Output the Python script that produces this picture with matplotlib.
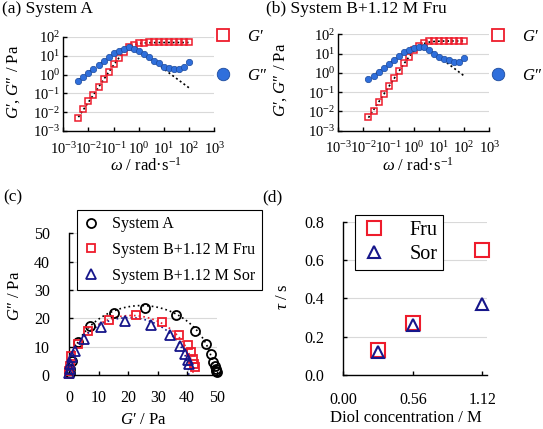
import matplotlib
matplotlib.use('Agg')
import matplotlib.pyplot as plt
import numpy as np
from matplotlib.lines import Line2D
from matplotlib.ticker import FuncFormatter, NullLocator

plt.rcParams['font.family'] = ['Liberation Serif', 'DejaVu Serif']
plt.rcParams['mathtext.fontset'] = 'custom'
plt.rcParams['mathtext.rm'] = 'Liberation Serif'
plt.rcParams['mathtext.it'] = 'Liberation Serif:italic'
plt.rcParams['mathtext.bf'] = 'Liberation Serif:bold'

# ---- data ----
# (a) System A, frequency sweep
omega_a = [0.00398, 0.00631, 0.01, 0.0158, 0.0251, 0.0398, 0.0631, 0.1, 0.158, 0.251,
           0.398, 0.631, 1.0, 1.58, 2.51, 3.98, 6.31, 10.0, 15.8, 25.1, 39.8, 63.1, 100.0]
Gp_a = [0.0051, 0.0148, 0.038, 0.085, 0.22, 0.58, 1.43, 3.66, 7.9, 15.8,
        28, 39, 46, 50, 51, 51, 51, 51, 51, 51, 51, 51, 51]
Gpp_a = [0.475, 0.78, 1.27, 1.9, 3.2, 5.3, 8.3, 13.5, 18.7, 24,
         28, 24, 17.4, 12.5, 8.3, 5.5, 4.0, 2.6, 2.15, 1.9, 2.07, 2.6, 4.7]
G0_a, tau_a = 51, 2.6

# (b) System B + 1.12 M Fru
omega_b = [0.0158, 0.0251, 0.0398, 0.0631, 0.1, 0.158, 0.251, 0.398, 0.631, 1.0,
           1.58, 2.51, 3.98, 6.31, 10.0, 15.8, 25.1, 39.8, 63.1, 100.0]
Gp_b = [0.0052, 0.0102, 0.032, 0.081, 0.21, 0.52, 1.3, 3.1, 6.9, 15.4,
        26, 37, 44, 45, 45, 45, 45, 45, 45, 45]
Gpp_b = [0.46, 0.69, 1.11, 1.87, 2.9, 4.9, 7.5, 11.6, 16, 20.3,
         22, 21, 15.4, 9.6, 6.9, 5.5, 4.5, 3.7, 3.8, 6.2]
G0_b, tau_b = 45, 0.65

# (c) Cole-Cole plots
coleA_Gp = [0.1, 0.3, 0.8, 2.8, 7.0, 15.0, 25.8, 36.1, 42.8, 46.5, 47.9, 48.9, 49.4, 49.7, 49.9, 50.0]
coleA_Gpp = [0.8, 2.0, 4.8, 11.6, 17.4, 22.0, 23.7, 21.0, 15.4, 11.1, 7.5, 4.7, 3.0, 2.0, 1.5, 1.2]
coleF_Gp = [0.0, 0.05, 0.15, 0.5, 2.8, 6.3, 13.5, 22.7, 31.5, 37.2, 40.4, 41.4, 42.0, 42.4, 42.6]
coleF_Gpp = [0.5, 1.5, 3.2, 6.8, 10.9, 15.4, 19.4, 21.0, 18.7, 14.1, 10.6, 8.0, 5.8, 4.0, 2.8]
coleS_Gp = [0.0, 0.1, 0.3, 0.8, 2.0, 5.1, 10.8, 18.9, 27.6, 34.0, 37.7, 39.3, 40.1, 40.6]
coleS_Gpp = [0.6, 2.0, 4.0, 6.3, 8.6, 12.6, 16.8, 19.1, 17.5, 14.1, 10.3, 7.3, 5.3, 3.9]
G0_cole = {'A': 49, 'Fru': 42, 'Sor': 40.5}

# (d) relaxation time vs diol concentration
conc = [0.28, 0.56, 1.12]
tau_fru = [0.13, 0.27, 0.65]
tau_sor = [0.12, 0.26, 0.37]

RED = '#ee1c2c'
BLUE = '#2f6fdc'
DBLUE = '#1c4a9c'
NAVY = '#16168a'
GRID = '#d9d9d9'

W, H = 543, 429
fig = plt.figure(figsize=(W / 100, H / 100), dpi=100)


def add_ax(x0, y0, x1, y1):
    return fig.add_axes([x0 / W, 1 - y1 / H, (x1 - x0) / W, (y1 - y0) / H])


def ftext(x, y, s, **kw):
    fig.text(x / W, 1 - y / H, s, **kw)


def maxwell(w, g0, tau):
    x = np.asarray(w) * tau
    return g0 * x ** 2 / (1 + x ** 2), g0 * x / (1 + x ** 2)


def style(ax):
    for s in ['top', 'right']:
        ax.spines[s].set_visible(False)
    for s in ['left', 'bottom']:
        ax.spines[s].set_linewidth(1.0)
    ax.yaxis.grid(True, color=GRID, lw=0.8)
    ax.set_axisbelow(True)


logfmt = FuncFormatter(lambda v, p: r'$\mathregular{10^{%d}}$' % round(np.log10(v)))


def freq_panel(ax, w, gp, gpp, g0, tau):
    ws = np.logspace(np.log10(w[0]), np.log10(w[-1]), 300)
    fp, fpp = maxwell(ws, g0, tau)
    ax.plot(ws, fp, color='k', ls=(0, (1.2, 1.6)), lw=1.2, zorder=2)
    ax.plot(ws, fpp, color='k', ls=(0, (1.2, 1.6)), lw=1.2, zorder=2)
    ax.plot(w, gp, 's', mfc='none', mec=RED, mew=1.1, ms=4.6, zorder=3)
    ax.plot(w, gpp, 'o', mfc=BLUE, mec=DBLUE, mew=0.5, ms=4.6, zorder=4)
    ax.set_xscale('log')
    ax.set_yscale('log')
    ax.set_xlim(1e-3, 1e3)
    ax.set_ylim(1e-3, 1e2)
    ax.set_xticks([10.0 ** k for k in range(-3, 4)])
    ax.set_yticks([10.0 ** k for k in range(-3, 3)])
    ax.xaxis.set_minor_locator(NullLocator())
    ax.yaxis.set_minor_locator(NullLocator())
    ax.xaxis.set_major_formatter(logfmt)
    ax.yaxis.set_major_formatter(logfmt)
    ax.tick_params(axis='both', direction='in', length=3, width=1.0, labelsize=10.5)
    ax.tick_params(axis='x', pad=7)
    ax.tick_params(axis='y', pad=2)
    style(ax)
    handles = [Line2D([], [], marker='s', ls='none', ms=9, mfc='white', mec=RED, mew=1.3),
               Line2D([], [], marker='o', ls='none', ms=9, mfc=BLUE, mec=DBLUE, mew=0.6)]
    return handles


# (a)
ax_a = add_ax(63.3, 37, 214.3, 131)
h = freq_panel(ax_a, omega_a, Gp_a, Gpp_a, G0_a, tau_a)
fig.legend(h, [r"$G$′", r"$G$″"], loc='upper left', bbox_to_anchor=(215 / W, 1 - 29 / H),
           bbox_transform=fig.transFigure, frameon=False, fontsize=12, handlelength=1.0,
           handletextpad=0.9, labelspacing=1.35, borderpad=0, borderaxespad=0)
ftext(2, 9, '(a) System A', fontsize=12.5, va='center', ha='left')
ftext(14, 82, r"$G$′, $G$″ / Pa", fontsize=12, rotation=90, va='center', ha='center')
ftext(146, 166, r"$\omega$ / rad·s$^{\mathregular{-1}}$", fontsize=12, va='center', ha='center')

# (b)
ax_b = add_ax(338.3, 34.3, 489.3, 130.7)
h = freq_panel(ax_b, omega_b, Gp_b, Gpp_b, G0_b, tau_b)
fig.legend(h, [r"$G$′", r"$G$″"], loc='upper left', bbox_to_anchor=(490 / W, 1 - 29 / H),
           bbox_transform=fig.transFigure, frameon=False, fontsize=12, handlelength=1.0,
           handletextpad=0.9, labelspacing=1.35, borderpad=0, borderaxespad=0)
ftext(266, 9, '(b) System B+1.12 M Fru', fontsize=12.5, va='center', ha='left')
ftext(281, 80, r"$G$′, $G$″ / Pa", fontsize=12, rotation=90, va='center', ha='center')
ftext(418, 166, r"$\omega$ / rad·s$^{\mathregular{-1}}$", fontsize=12, va='center', ha='center')

# (c)
ax_c = add_ax(69.3, 233.3, 216.7, 375)
ws = np.logspace(-3, 3, 400)
for key, col in [('A', 'k'), ('Fru', RED), ('Sor', NAVY)]:
    cp, cpp = maxwell(ws, G0_cole[key], 1.0)
    ax_c.plot(cp, cpp, color=col, ls=(0, (1.0, 1.8)), lw=1.2, zorder=2)
ax_c.plot(coleA_Gp, coleA_Gpp, 'o', mfc='none', mec='k', mew=1.3, ms=6.5, zorder=3,
          label='System A', clip_on=False)
ax_c.plot(coleF_Gp, coleF_Gpp, 's', mfc='none', mec=RED, mew=1.3, ms=6.3, zorder=3,
          label='System B+1.12 M Fru', clip_on=False)
ax_c.plot(coleS_Gp, coleS_Gpp, '^', mfc='none', mec=NAVY, mew=1.3, ms=6.5, zorder=4,
          label='System B+1.12 M Sor', clip_on=False)
ax_c.set_xlim(0, 50)
ax_c.set_ylim(0, 50)
ax_c.set_xticks(range(0, 51, 10))
ax_c.set_yticks(range(0, 51, 10))
ax_c.tick_params(axis='both', direction='in', length=3, width=1.0, labelsize=11.5)
ax_c.tick_params(axis='x', pad=11)
ax_c.tick_params(axis='y', pad=14)
style(ax_c)
leg = ax_c.legend(loc='upper left', bbox_to_anchor=(77 / W, 1 - 210 / H),
                  bbox_transform=fig.transFigure, fontsize=11.5, frameon=True, fancybox=False,
                  edgecolor='k', framealpha=1, handlelength=1.0, handletextpad=0.8,
                  labelspacing=0.6, borderpad=0.4, borderaxespad=0)
leg.get_frame().set_linewidth(0.8)
leg.set_zorder(10)
ftext(3, 197, '(c)', fontsize=12.5, va='center', ha='left')
ftext(15, 296, r"$G$″ / Pa", fontsize=12, rotation=90, va='center', ha='center')
ftext(144, 420, r"$G$′ / Pa", fontsize=12, va='center', ha='center')

# (d)
ax_d = add_ax(343.3, 221.7, 486.7, 375)
ax_d.plot(conc, tau_fru, 's', mfc='none', mec=RED, mew=1.5, ms=9.5, zorder=3, label='Fru',
          clip_on=False)
ax_d.plot(conc, tau_sor, '^', mfc='none', mec=NAVY, mew=1.5, ms=8.5, zorder=4, label='Sor',
          clip_on=False)
ax_d.set_xlim(0, 1.155)
ax_d.set_ylim(0, 0.8)
ax_d.set_xticks([0.0, 0.56, 1.12])
ax_d.set_xticklabels(['0.00', '0.56', '1.12'])
ax_d.set_yticks([0.0, 0.2, 0.4, 0.6, 0.8])
ax_d.set_yticklabels(['0.0', '0.2', '0.4', '0.6', '0.8'])
ax_d.tick_params(axis='both', direction='in', length=3, width=1.0, labelsize=11.5)
ax_d.tick_params(axis='x', pad=12)
ax_d.tick_params(axis='y', pad=14)
style(ax_d)
leg = ax_d.legend(loc='upper left', bbox_to_anchor=(355 / W, 1 - 215 / H),
                  bbox_transform=fig.transFigure, fontsize=14.5, frameon=True, fancybox=False,
                  edgecolor='k', framealpha=1, handlelength=1.3, handletextpad=1.1,
                  labelspacing=0.25, borderpad=0.3, borderaxespad=0)
leg.get_frame().set_linewidth(0.8)
ftext(262, 197, '(d)', fontsize=12.5, va='center', ha='left')
ftext(283, 297, r"$\tau$ / s", fontsize=12, rotation=90, va='center', ha='center')
ftext(406, 418, 'Diol concentration / M', fontsize=12, va='center', ha='center')

fig.savefig('out.png', dpi=100)
